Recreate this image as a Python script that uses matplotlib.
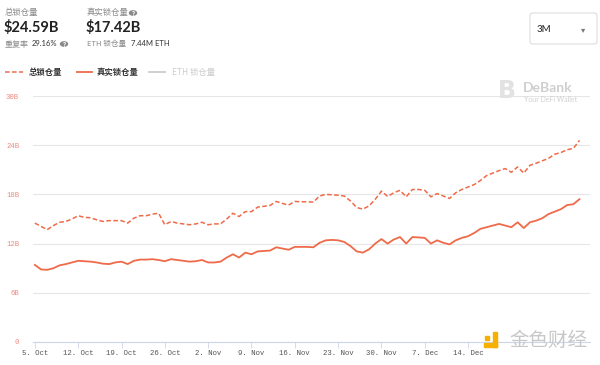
import matplotlib
matplotlib.use("Agg")
import matplotlib.pyplot as plt
from matplotlib.patches import FancyBboxPatch, Rectangle
import numpy as np
import pandas as pd

plt.rcParams['font.family'] = ['Noto Sans CJK SC', 'DejaVu Sans']

# ---- data (daily, 5 Oct -> 1 Jan) ----
start_date = "2020-10-05"
total_tvl = [14.5, 14.1, 13.7, 14.2, 14.6, 14.7, 15.0, 15.4, 15.2, 15.15,
             14.9, 14.7, 14.8, 14.8, 14.8, 14.5, 15.1, 15.4, 15.4, 15.6,
             15.7, 14.3, 14.7, 14.5, 14.4, 14.3, 14.4, 14.6, 14.3, 14.4,
             14.4, 15.0, 15.7, 15.3, 15.9, 15.9, 16.45, 16.55, 16.65, 17.14,
             16.9, 16.7, 17.14, 17.1, 17.1, 17.06, 17.8, 18.0, 17.95, 17.9,
             17.8, 17.2, 16.4, 16.2, 16.6, 17.4, 18.4, 17.75, 18.2, 18.5,
             17.7, 18.6, 18.6, 18.5, 17.7, 18.1, 17.8, 17.5, 18.2, 18.6,
             18.9, 19.2, 19.7, 20.3, 20.6, 20.9, 21.15, 20.7, 21.35, 20.6,
             21.55, 21.8, 22.1, 22.4, 22.9, 23.1, 23.45, 23.6, 24.59]
real_tvl = [9.4, 8.85, 8.8, 9.0, 9.35, 9.5, 9.7, 9.9, 9.85, 9.8,
            9.7, 9.55, 9.5, 9.7, 9.8, 9.5, 9.9, 10.05, 10.05, 10.1,
            10.0, 9.85, 10.1, 10.0, 9.9, 9.8, 9.85, 10.0, 9.7, 9.7,
            9.8, 10.3, 10.7, 10.3, 10.9, 10.7, 11.05, 11.1, 11.15, 11.55,
            11.4, 11.25, 11.6, 11.6, 11.6, 11.55, 12.1, 12.4, 12.45, 12.4,
            12.2, 11.7, 11.05, 10.9, 11.3, 12.0, 12.55, 12.0, 12.5, 12.8,
            12.0, 12.8, 12.75, 12.7, 12.0, 12.4, 12.1, 11.9, 12.4, 12.7,
            12.9, 13.3, 13.8, 14.0, 14.2, 14.4, 14.2, 14.0, 14.6, 13.9,
            14.6, 14.8, 15.1, 15.6, 15.9, 16.2, 16.7, 16.8, 17.42]
y_ticks = [0, 6, 12, 18, 24, 30]
y_labels = ["0", "6B", "12B", "18B", "24B", "30B"]
x_tick_labels = ["5. Oct", "12. Oct", "19. Oct", "26. Oct", "2. Nov", "9. Nov",
                 "16. Nov", "23. Nov", "30. Nov", "7. Dec", "14. Dec"]
legend_labels = ["总锁仓量", "真实锁仓量", "ETH 锁仓量"]

dates = pd.date_range(start_date, periods=len(total_tvl), freq="D")
days = (dates - dates[0]).days.values
line_color = "#ef6a49"

fig = plt.figure(figsize=(6.0, 3.65), dpi=100)
W, H = 600, 365
ax = fig.add_axes([33 / W, 1 - 342 / H, (590 - 33) / W, (342 - 96) / H])

ax.plot(days, total_tvl, color=line_color, lw=1.1, ls=(0, (3, 1.6)))
ax.plot(days, real_tvl, color=line_color, lw=1.3)

ax.set_xlim(-0.3, 89.7)
ax.set_ylim(0, 30)
ax.set_yticks(y_ticks)
ax.set_yticklabels(y_labels, family="Liberation Mono", fontsize=5.2, color="#ee8a80")
ax.tick_params(axis="y", length=0, pad=10)
ax.grid(axis="y", color="#e6e6e6", lw=0.8)
ax.set_axisbelow(True)
ax.set_xticks(np.arange(0, 7 * len(x_tick_labels), 7))
ax.set_xticklabels(x_tick_labels, family="Liberation Mono", fontsize=5.3, color="#555555")
ax.tick_params(axis="x", length=4, width=0.6, color="#ccd6eb", pad=2)
for s in ["top", "right", "left"]:
    ax.spines[s].set_visible(False)
ax.spines["bottom"].set_color("#ccd6eb")
ax.spines["bottom"].set_linewidth(0.8)

# ---- header text ----
def px(x, y):
    return x / W, 1 - y / H

fig.text(*px(5, 13), "总锁仓量", fontsize=6, color="#8a8a8a", va="center")
fig.text(*px(4, 28), "$24.59B", fontsize=10.5, color="#222222", va="center", weight="bold",
         family="Lato")
fig.text(*px(5, 44), "重复率", fontsize=5.8, color="#8a8a8a", va="center")
fig.text(*px(32, 44), "29.16%", fontsize=5.5, color="#333333", va="center", family="Lato")
fig.text(*px(87, 13), "真实锁仓量", fontsize=6, color="#8a8a8a", va="center")
fig.text(*px(86, 28), "$17.42B", fontsize=10.5, color="#222222", va="center", weight="bold",
         family="Lato")
fig.text(*px(87, 44), "ETH 锁仓量", fontsize=5.5, color="#8a8a8a", va="center")
fig.text(*px(131, 44), "7.44M ETH", fontsize=5.5, color="#333333", va="center", family="Lato")
for (cx, cy) in [(64, 44), (133, 13)]:
    fig.patches.append(plt.Circle(px(cx, cy), 3.5 / W, transform=fig.transFigure,
                                  color="#8a8a8a"))
    fig.text(*px(cx, cy + 0.3), "?", fontsize=4.5, color="white", ha="center", va="center",
             weight="bold")

# dropdown
fig.patches.append(FancyBboxPatch(px(530, 44), 67 / W, 31 / H,
                                  boxstyle="round,pad=0,rounding_size=0.006",
                                  transform=fig.transFigure, fc="white", ec="#dddddd", lw=0.8))
fig.text(*px(537, 30), "3M", fontsize=7, color="#222222", va="center", family="Lato")
fig.text(*px(583, 30), "▾", fontsize=6, color="#777777", va="center", ha="center",
         family="DejaVu Sans")

# ---- legend ----
ly = 72
fig.lines.append(plt.Line2D([5 / W, 23 / W], [1 - ly / H] * 2, transform=fig.transFigure,
                            color=line_color, lw=1.1, ls=(0, (3, 1.6))))
fig.text(*px(29, ly), legend_labels[0], fontsize=6, color="#333333", va="center", weight="bold")
fig.lines.append(plt.Line2D([77 / W, 92 / W], [1 - ly / H] * 2, transform=fig.transFigure,
                            color=line_color, lw=1.3))
fig.text(*px(97, ly), legend_labels[1], fontsize=6, color="#333333", va="center", weight="bold")
fig.lines.append(plt.Line2D([149 / W, 165 / W], [1 - ly / H] * 2, transform=fig.transFigure,
                            color="#cccccc", lw=1.3))
fig.text(*px(172, ly), legend_labels[2], fontsize=6, color="#cccccc", va="center")

# ---- DeBank watermark ----
fig.text(*px(507, 91), "B", fontsize=17, color="#e2e2e2", va="center", ha="center",
         weight="bold", family="DejaVu Sans")
fig.text(*px(523, 88), "DeBank", fontsize=10, color="#cfcfcf", va="center", weight="bold",
         family="Lato")
fig.text(*px(524, 99), "Your DeFi Wallet", fontsize=5, color="#d0d0d0", va="center",
         family="Lato")

# ---- Jinse watermark ----
fig.patches.append(Rectangle(px(484, 347), 13 / W, 4 / H, transform=fig.transFigure,
                             color="#f5b000"))
fig.patches.append(Rectangle(px(493, 347), 4 / W, 15 / H, transform=fig.transFigure,
                             color="#f5b000"))
fig.patches.append(Rectangle(px(485, 340), 4 / W, 4 / H, transform=fig.transFigure,
                             color="#f5b000"))
fig.text(*px(509, 340), "金色财经", fontsize=14, color="#c8c8c8", va="center")

fig.savefig("out.png", dpi=100, facecolor="white")
